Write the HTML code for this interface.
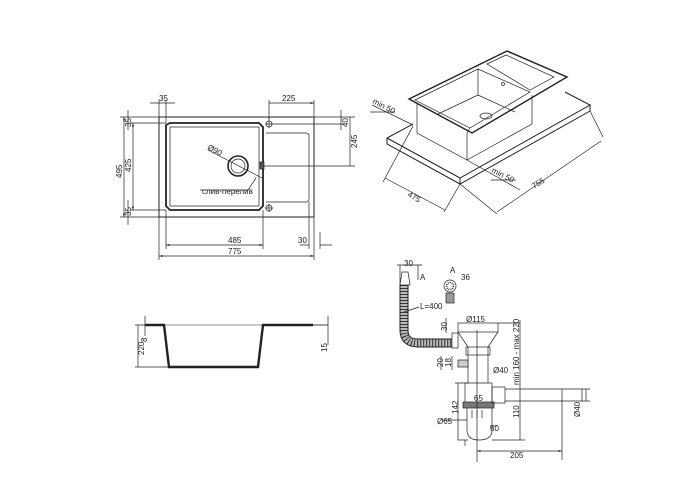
<!DOCTYPE html>
<html><head><meta charset="utf-8"><style>
html,body{margin:0;padding:0;background:#fff}
svg{display:block}
text{font-family:"Liberation Sans",sans-serif;font-size:8px;fill:#222}
</style></head><body>
<svg width="700" height="500" viewBox="0 0 700 500" xmlns="http://www.w3.org/2000/svg">
<defs>
<marker id="a" viewBox="0 0 6 6" refX="6" refY="3" markerWidth="5" markerHeight="5" orient="auto-start-reverse"><path d="M0,1 L6,3 L0,5z" fill="#333"/></marker>
</defs>
<g stroke="#222" stroke-width="0.7" fill="none">
<!-- TOP LEFT PLAN -->
<rect x="159" y="117" width="155" height="100" stroke-width="1"/>
<path d="M166,125 L170,123 L259,123 L263,127 L263,206 L259,210 L170,210 L166,206 Z" stroke-width="1.8"/>
<path d="M170,127 L259,127 L259,206 L170,206 Z"/>
<path d="M266,133 L306,133 Q309,133 309,136 L309,199 Q309,202 306,202 L266,202" />
<circle cx="238" cy="166" r="10" stroke-width="1.6"/><circle cx="238" cy="166" r="7"/>
<rect x="260" y="162" width="4" height="7" fill="#555"/>
<circle cx="269" cy="124" r="3"/><path d="M265,124h8M269,120v8"/>
<circle cx="269" cy="208" r="3"/><path d="M265,208h8M269,204v8"/>
<path d="M208,150 L262,178"/><path d="M256,178 L248,190 L200,190"/>
<path d="M159,217 V260 M314,217 V260 M166,210 V249 M263,210 V249 M309,202 V249 M320,232 V249"/>
<path d="M159,256 H314" marker-start="url(#a)" marker-end="url(#a)"/>
<path d="M166,245 H263" marker-start="url(#a)" marker-end="url(#a)"/>
<path d="M300,245 H309 M320,245 H332"/>
<path d="M159,117 V100 M166,123 V100 M150,103 H175"/>
<path d="M269,120 V100 M314,117 V100 M269,103 H314" marker-start="url(#a)" marker-end="url(#a)"/>
<path d="M120,117 H159 M130,123 H166 M130,210 H166 M120,217 H159"/>
<path d="M124,117 V217" marker-start="url(#a)" marker-end="url(#a)"/>
<path d="M133,123 V210" marker-start="url(#a)" marker-end="url(#a)"/>
<path d="M128,110 V130 M128,200 V225"/>
<path d="M314,117 H355 M272,124 H345 M264,166 H355 M341,110 V130 M350,117 V166"/>
<!-- ISO VIEW -->
<path d="M387,138 L413,124 M387,138 L460,178 L590,105 L565,92 M387,138 V144 L460,184 L590,111 V105 M460,178 V184" stroke-width="1"/>
<path d="M409,99 L507,51 L567,77 L472,133 Z" stroke-width="1.4"/>
<path d="M415,100 L478,69 L530,92 L470,128 Z"/>
<path d="M487,64 L506,55 L554,77 L530,90 Z"/>
<path d="M417,104 V133 L467,160 L532,124 V95 M467,160 V133 M470,128 L467,133"/>
<path d="M478,69 V95 L438,114 M478,95 L515,112"/>
<ellipse cx="486" cy="116" rx="6" ry="3"/><circle cx="503" cy="84" r="1.5"/>
<path d="M372,105 L413,125 M370,112 L395,112"/>
<path d="M467,160 L520,190 M491,180 L516,180"/>
<path d="M413,126 L383,182 M460,184 L444,212 M385,178 L445,210" />
<path d="M460,184 L497,214 M590,111 L603,137 M497,212 L601,141"/>
<!-- PROFILE -->
<path d="M145,325 H328" stroke-width="0.5"/>
<path d="M145,325 H164 L169,367 H258 L263,325 H313" stroke-width="2.4"/>
<path d="M313,325 H328 M135,325 H145 M135,367 H169 M138,325 V367 M145,316 V336 M328,316 V345"/>
<!-- SIPHON hose -->
<path d="M404,285 V330 Q404,343 418,343 H452" stroke="#222" stroke-width="9"/>
<path d="M404,285 V330 Q404,343 418,343 H452" stroke="#bbb" stroke-width="7"/>
<path d="M404,285 V330 Q404,343 418,343 H452" stroke="#333" stroke-width="7" stroke-dasharray="1 2"/>
<path d="M402,272 L408,272 L410,285 L400,285 Z" fill="#fff"/>
<path d="M400,265 V285 M418,265 V280 M397,265 H422"/>
<circle cx="450" cy="286" r="6"/><circle cx="450" cy="286" r="3.5" stroke-dasharray="1 1" stroke-width="1.5"/>
<rect x="446" y="293" width="8" height="10" fill="#999"/>
<rect x="452" y="333" width="6" height="15" fill="#fff"/>
<rect x="458" y="323" width="40" height="9"/>
<path d="M458,332 L468,347 V383 M498,332 L488,347 V383"/>
<rect x="466" y="347" width="24" height="8"/>
<rect x="458" y="360" width="10" height="7" fill="#ccc"/>
<path d="M465,383 H492 V407 M465,383 V407"/>
<rect x="463" y="402" width="31" height="6" fill="#777"/>
<path d="M467,408 V430 Q467,440 479,440 Q492,440 492,430 V408"/>
<path d="M472,410 V418 M477,410 V418 M482,410 V418"/>
<rect x="492" y="387" width="13" height="16"/>
<path d="M505,389 H582 V401 H505 M562,389 V460"/>
<path d="M477,330 V462"/>
<path d="M498,323 H520 M520,320 V440 M492,440 H525 M455,383 H468 M458,383 V440 L468,440 M465,440 V446"/>
<path d="M582,389 H590 M582,401 H590 M586,389 V401"/>
<path d="M477,451 H562" marker-start="url(#a)" marker-end="url(#a)"/>
<path d="M446,318 V333 M452,356 V370 M441,356 V370"/>
<path d="M442,420 H467 M490,426 H497"/>
<path d="M419,307 L404,312"/>
</g>
<text x="159" y="101">35</text><text x="282" y="101">225</text>
<text x="298" y="243">30</text><text x="228" y="243">485</text><text x="228" y="254">775</text>
<text x="202" y="194">слив-перелив</text>
<text transform="translate(207,149) rotate(28)">Ø90</text>
<text transform="translate(122,178) rotate(-90)">495</text>
<text transform="translate(131,172) rotate(-90)">425</text>
<text transform="translate(131,127) rotate(-90)">35</text>
<text transform="translate(131,216) rotate(-90)">35</text>
<text transform="translate(348,127) rotate(-90)">40</text>
<text transform="translate(357,148) rotate(-90)">245</text>
<text transform="translate(372,103) rotate(27)">min 50</text>
<text transform="translate(491,172) rotate(27)">min 50</text>
<text transform="translate(407,196) rotate(30)">475</text>
<text transform="translate(534,189) rotate(-32)">755</text>
<text transform="translate(144,355) rotate(-90)">220</text>
<text transform="translate(147,342) rotate(-90)">8</text>
<text transform="translate(327,352) rotate(-90)">15</text>
<text x="404" y="266">30</text><text x="420" y="280">A</text>
<text x="450" y="273">A</text><text x="461" y="280">36</text>
<text x="420" y="309">L=400</text>
<text x="466" y="322">Ø115</text>
<text transform="translate(447,331) rotate(-90)">30</text>
<text transform="translate(443,367) rotate(-90)">20</text>
<text transform="translate(451,367) rotate(-90)">18</text>
<text x="493" y="373">Ø40</text>
<text x="474" y="401">65</text>
<text transform="translate(458,414) rotate(-90)">142</text>
<text x="437" y="424">Ø65</text>
<text x="490" y="431">60</text>
<text transform="translate(519,385) rotate(-90)">min 160 - max 220</text>
<text transform="translate(519,418) rotate(-90)">110</text>
<text transform="translate(580,417) rotate(-90)">Ø40</text>
<text x="510" y="458">205</text>
</svg>
</body></html>
